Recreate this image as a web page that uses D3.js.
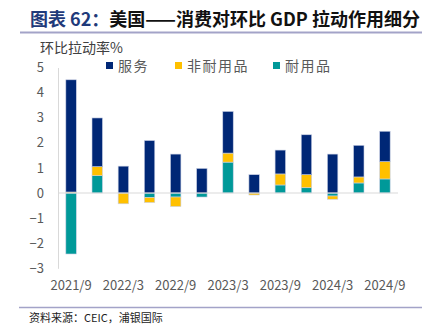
<!DOCTYPE html>
<html>
<head>
<meta charset="utf-8">
<script src="https://cdn.jsdelivr.net/npm/d3@7"></script>
<style>
  html, body { margin: 0; padding: 0; background: #fff; }
  svg { display: block; }
  text { font-family: "Noto Sans CJK SC", "Noto Sans", sans-serif; }
</style>
</head>
<body>
<svg id="chart" width="431" height="329"></svg>
<script>
// Quarterly contributions of US consumption to q/q GDP growth (pp)
const quarters = ["2021/9","2021/12","2022/3","2022/6","2022/9","2022/12",
                  "2023/3","2023/6","2023/9","2023/12","2024/3","2024/6","2024/9"];
const durables    = [-2.43, 0.69,  0.00, -0.18, -0.16, -0.16, 1.23,  0.00, 0.32, 0.21, -0.12, 0.40, 0.56];
const nondurables = [ 0.04, 0.36, -0.43, -0.20, -0.38,  0.00, 0.36, -0.08, 0.44, 0.52, -0.13, 0.24, 0.69];
const services    = [ 4.47, 1.94,  1.07,  2.09,  1.55,  0.98, 1.66,  0.73, 0.95, 1.59,  1.55, 1.26, 1.21];
const yTicks = [-3, -2, -1, 0, 1, 2, 3, 4, 5];
const xTickLabels = ["2021/9","2022/3","2022/9","2023/3","2023/9","2024/3","2024/9"];

const seriesKeys = ["耐用品", "非耐用品", "服务"];
const seriesColors = { "服务": "#002776", "非耐用品": "#FFC000", "耐用品": "#009999" };
const legendOrder = ["服务", "非耐用品", "耐用品"];

const rows = quarters.map((q, i) => ({
  quarter: q,
  "耐用品": durables[i],
  "非耐用品": nondurables[i],
  "服务": services[i]
}));

const svg = d3.select("#chart");

// Title
const title = svg.append("text")
  .attr("x", 30).attr("y", 26)
  .attr("font-size", 18).attr("font-weight", "bold");
title.append("tspan").attr("fill", "#1F3A7A").text("图表 62：");
title.append("tspan").attr("fill", "#111").text("美国——消费对环比 GDP 拉动作用细分");

svg.append("line")
  .attr("x1", 20).attr("x2", 422).attr("y1", 32.5).attr("y2", 32.5)
  .attr("stroke", "#A3A3C8").attr("stroke-width", 2);

// Scales
const x = d3.scaleBand().domain(quarters).range([58, 398])
  .paddingInner(0.6).paddingOuter(0.3);
const y = d3.scaleLinear().domain([-3, 5]).range([268.3, 67.5]);

// Y axis
const yAxis = d3.axisLeft(y).tickValues(yTicks).tickSize(0).tickPadding(14)
  .tickFormat(d3.format("d"));
const gy = svg.append("g").attr("transform", "translate(58,0)").call(yAxis);
gy.select(".domain").attr("stroke", "#D9D9D9").attr("stroke-width", 1);
gy.selectAll("text").attr("font-size", 13).attr("fill", "#595959")
  .attr("font-family", "'Open Sans', 'Noto Sans', sans-serif");

// Stacked bars (positive and negative parts diverge from zero)
const stack = d3.stack().keys(seriesKeys).offset(d3.stackOffsetDiverging);
const layers = stack(rows);

svg.append("g").selectAll("g")
  .data(layers).join("g")
  .attr("fill", d => seriesColors[d.key])
  .selectAll("rect")
  .data(d => d.filter(p => p[1] - p[0] !== 0))
  .join("rect")
  .attr("x", d => x(d.data.quarter))
  .attr("width", x.bandwidth())
  .attr("y", d => y(Math.max(d[0], d[1])))
  .attr("height", d => Math.abs(y(d[0]) - y(d[1])))
  .attr("stroke", "#C9D0E4").attr("stroke-width", 0.6);

// Zero line
svg.append("line")
  .attr("x1", 58).attr("x2", 398)
  .attr("y1", y(0)).attr("y2", y(0))
  .attr("stroke", "#D9D9D9").attr("stroke-width", 1);

// X axis labels (every other quarter)
const xAxis = d3.axisBottom(x).tickValues(xTickLabels).tickSize(0).tickPadding(0);
const gx = svg.append("g").attr("transform", "translate(0,281)").call(xAxis);
gx.select(".domain").remove();
gx.selectAll("text").attr("font-size", 13).attr("fill", "#595959")
  .attr("font-family", "'Open Sans', 'Noto Sans', sans-serif");

// Y axis title
svg.append("text")
  .attr("x", 40).attr("y", 53)
  .attr("font-size", 14).attr("fill", "#404040")
  .text("环比拉动率%");

// Legend
const legendX = [106, 175, 273];
const lg = svg.append("g").selectAll("g").data(legendOrder).join("g")
  .attr("transform", (d, i) => `translate(${legendX[i]},62)`);
lg.append("rect").attr("width", 7).attr("height", 7)
  .attr("fill", d => seriesColors[d]);
lg.append("text").attr("x", 12).attr("y", 8.5)
  .attr("font-size", 14).attr("fill", "#595959")
  .attr("letter-spacing", 1.5)
  .text(d => d);

// Footer
svg.append("line")
  .attr("x1", 19).attr("x2", 422).attr("y1", 307.5).attr("y2", 307.5)
  .attr("stroke", "#A3A3C8").attr("stroke-width", 1.5);
svg.append("text")
  .attr("x", 29).attr("y", 322)
  .attr("font-size", 11).attr("fill", "#222")
  .text("资料来源：CEIC，浦银国际");
</script>
</body>
</html>
